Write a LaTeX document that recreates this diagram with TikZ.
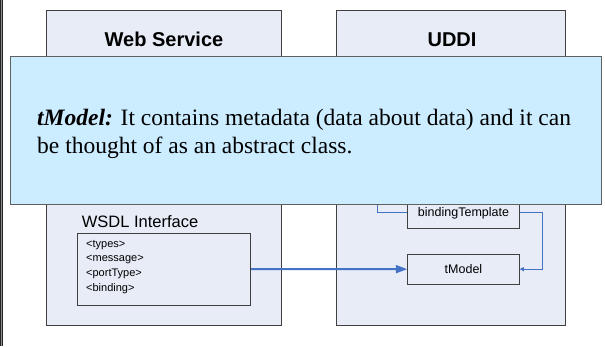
\documentclass[tikz,border=0pt]{standalone}
\usepackage{fontspec}
\setmainfont{Liberation Serif}
\setsansfont{Liberation Sans}
\usetikzlibrary{arrows.meta}

\definecolor{panelfill}{RGB}{231,236,247}
\definecolor{notefill}{RGB}{204,236,255}
\definecolor{linkblue}{RGB}{68,114,196}
\definecolor{edgegray}{RGB}{64,64,64}
\definecolor{noteedge}{RGB}{96,96,96}

\begin{document}
\begin{tikzpicture}[x=1pt, y=-1pt,
  panel/.style={draw=edgegray, line width=0.9pt, fill=panelfill, inner sep=0pt},
  panelhead/.style={font=\sffamily\bfseries\fontsize{20}{24}\selectfont, inner sep=0pt, anchor=base},
  itembox/.style={draw=edgegray, line width=0.9pt, fill=panelfill, inner sep=0pt,
    minimum width=111.6pt, font=\sffamily\fontsize{12.5}{15}\selectfont},
  link/.style={draw=linkblue, line width=0.9pt},
  mainlink/.style={draw=linkblue, line width=2pt, -{Triangle[length=11.5pt, width=8pt]}},
]
\useasboundingbox (0,0) rectangle (605,346);
\fill[white] (0,0) rectangle (605,346);

% left margin rule
\fill[black!85] (0,0) rectangle (1,346);
\fill[black!45] (1,0) rectangle (2,346);
\fill[black!85] (2,0) rectangle (3,346);

% the two panels
\node[panel, minimum width=234.3pt, minimum height=314.3pt] (ws) at (163.85,167.85) {};
\node[panel, minimum width=229pt, minimum height=314.3pt] (uddi) at (451.2,167.85) {};
\node[panelhead] (wshead) at (164,46.7) {Web Service};
\node[panelhead] (uddihead) at (452,46.7) {UDDI};

% WSDL interface
\node[font=\sffamily\fontsize{16.5}{20}\selectfont, inner sep=0pt, anchor=base west]
  (wsdlhead) at (81.7,227.7) {WSDL Interface};
\node[draw=edgegray, line width=0.9pt, inner sep=0pt,
  minimum width=173.4pt, minimum height=71.7pt] (wsdl) at (164,269.2) {};
\node[font=\sffamily\fontsize{11}{14.8}\selectfont, inner sep=0pt, anchor=base west]
  (wsdlitems) at (86,247) {\vtop{\baselineskip=14.8pt
    \hbox{<types>}\hbox{<message>}\hbox{<portType>}\hbox{<binding>}}};

% UDDI entries
\node[itembox, minimum height=31.7pt] (bt) at (463.5,212.85) {bindingTemplate};
\node[itembox, minimum height=30.3pt] (tm) at (463.5,269.15) {tModel};
\coordinate (btup) at (377.3,150);

% connectors
\draw[link] (bt.west) -| (btup);
\draw[link, -{Triangle[length=4pt, width=4pt]}] (bt.east) -- ++(22.4,0) |- (tm.east);
\draw[mainlink] (wsdl.east) -- (tm.west);

% note laid over the panels
\node[draw=noteedge, line width=0.9pt, fill=notefill, inner sep=0pt,
  minimum width=590.3pt, minimum height=148pt] (note) at (305.85,130) {};
\node[font=\fontsize{23.5}{28}\selectfont, inner sep=0pt, anchor=base west]
  (notetext) at (37,125) {\vtop{\baselineskip=28pt
    \hbox{\textbf{\textit{tModel:}} It contains metadata (data about data) and it can}
    \hbox{be thought of as an abstract class.}}};
\end{tikzpicture}
\end{document}
